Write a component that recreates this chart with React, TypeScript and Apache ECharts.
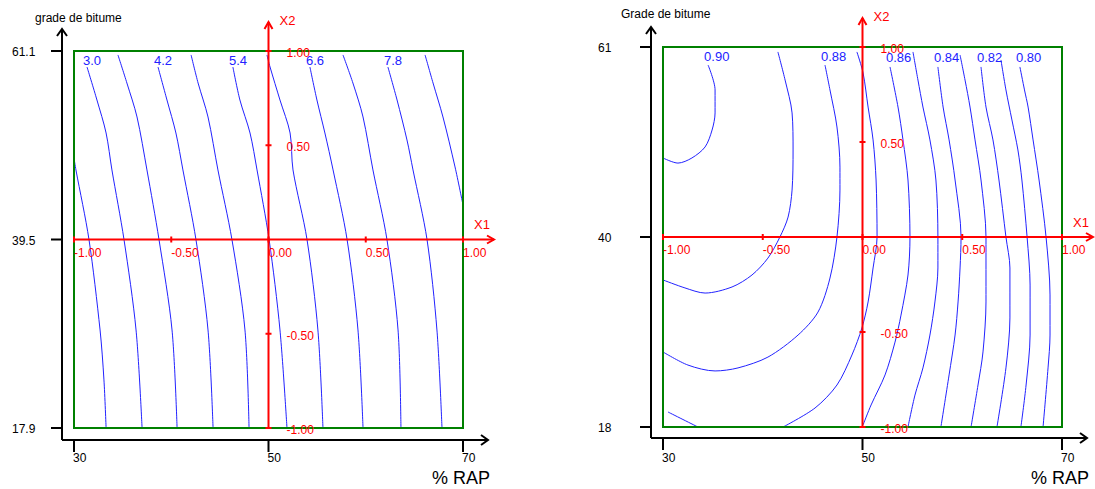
import React, { useEffect, useRef } from "react";
import * as echarts from "echarts";

// ---------- DATA (coded units X1, X2 in [-1, 1]) ----------
const leftLevels = ["2.4", "3.0", "3.6", "4.2", "4.8", "5.4", "6.0", "6.6", "7.2", "7.8", "8.4"];
const leftLabeled = ["3.0", "4.2", "5.4", "6.6", "7.8"];
const leftPaths: number[][][] = [
  [[-1.0, 0.432], [-0.99, 0.369], [-0.923, 0.0], [-0.866, -0.48], [-0.846, -0.745], [-0.835, -1.0]],
  [[-0.933, 0.915], [-0.882, 0.74], [-0.835, 0.565], [-0.805, 0.369], [-0.743, 0.0], [-0.681, -0.48], [-0.65, -1.0]],
  [[-0.774, 0.979], [-0.728, 0.83], [-0.676, 0.65], [-0.625, 0.369], [-0.563, 0.0], [-0.496, -0.48], [-0.47, -1.0]],
  [[-0.568, 0.915], [-0.522, 0.74], [-0.476, 0.565], [-0.44, 0.369], [-0.373, 0.0], [-0.311, -0.48], [-0.285, -1.0]],
  [[-0.398, 0.979], [-0.362, 0.83], [-0.311, 0.65], [-0.26, 0.369], [-0.188, 0.0], [-0.121, -0.48], [-0.1, -1.0]],
  [[-0.183, 0.915], [-0.147, 0.74], [-0.095, 0.565], [-0.059, 0.369], [0.003, 0.0], [0.059, -0.48], [0.095, -1.0]],
  [[-0.008, 0.979], [0.008, 0.915], [0.059, 0.74], [0.111, 0.565], [0.126, 0.369], [0.198, 0.0], [0.254, -0.48], [0.28, -1.0]],
  [[0.213, 0.915], [0.249, 0.74], [0.29, 0.565], [0.332, 0.369], [0.404, 0.0], [0.46, -0.48], [0.486, -1.0]],
  [[0.383, 0.979], [0.434, 0.83], [0.486, 0.65], [0.537, 0.369], [0.609, 0.0], [0.666, -0.48], [0.681, -1.0]],
  [[0.614, 0.915], [0.661, 0.74], [0.712, 0.528], [0.743, 0.369], [0.815, 0.0], [0.866, -0.48], [0.892, -1.0]],
  [[0.805, 0.979], [0.846, 0.83], [0.897, 0.65], [0.959, 0.385], [1.0, 0.183]],
];

const rightLevels = ["0.90", "0.89", "0.88", "0.87", "0.87", "0.86", "0.85", "0.84", "0.83", "0.82", "0.81", "0.80"];
const rightLabeled = ["0.90", "0.88", "0.86", "0.84", "0.82", "0.80"];
const rightPaths: number[][][] = [
  [[-0.774, 0.905], [-0.739, 0.774], [-0.739, 0.653], [-0.754, 0.563], [-0.789, 0.474], [-0.855, 0.416], [-0.925, 0.389], [-1.0, 0.416]],
  [[-0.424, 0.974], [-0.388, 0.826], [-0.353, 0.653], [-0.348, 0.458], [-0.353, 0.247], [-0.373, 0.105], [-0.414, 0.0], [-0.474, -0.111], [-0.554, -0.2], [-0.654, -0.263], [-0.789, -0.295], [-0.89, -0.268], [-1.0, -0.226]],
  [[-0.188, 0.905], [-0.163, 0.774], [-0.128, 0.579], [-0.113, 0.368], [-0.113, 0.247], [-0.128, 0.0], [-0.163, -0.216], [-0.223, -0.395], [-0.323, -0.516], [-0.474, -0.632], [-0.624, -0.689], [-0.739, -0.705], [-0.875, -0.674], [-1.0, -0.605]],
  [[-0.028, 0.974], [0.003, 0.863], [0.028, 0.684], [0.053, 0.511], [0.068, 0.3], [0.073, 0.0], [0.053, -0.163], [0.028, -0.342], [-0.003, -0.479], [-0.053, -0.621], [-0.128, -0.779], [-0.238, -0.9], [-0.398, -1.0]],
  [[-0.975, -0.921], [-0.825, -1.0]],
  [[0.138, 0.895], [0.178, 0.684], [0.203, 0.511], [0.228, 0.3], [0.238, 0.0], [0.228, -0.2], [0.193, -0.411], [0.163, -0.553], [0.113, -0.726], [0.043, -0.884], [0.003, -0.989]],
  [[0.253, 0.974], [0.278, 0.826], [0.303, 0.684], [0.338, 0.511], [0.368, 0.3], [0.378, 0.0], [0.378, -0.163], [0.363, -0.342], [0.338, -0.516], [0.303, -0.689], [0.263, -0.832], [0.228, -1.0]],
  [[0.378, 0.895], [0.404, 0.684], [0.434, 0.511], [0.464, 0.3], [0.494, 0.0], [0.489, -0.163], [0.479, -0.342], [0.464, -0.516], [0.434, -0.726], [0.393, -1.0]],
  [[0.489, 0.958], [0.514, 0.826], [0.539, 0.684], [0.564, 0.511], [0.594, 0.3], [0.619, 0.0], [0.619, -0.342], [0.604, -0.605], [0.579, -0.779], [0.544, -1.0]],
  [[0.594, 0.895], [0.619, 0.684], [0.654, 0.511], [0.684, 0.3], [0.719, 0.0], [0.739, -0.163], [0.739, -0.426], [0.719, -0.689], [0.674, -1.0]],
  [[0.694, 0.932], [0.719, 0.774], [0.749, 0.616], [0.779, 0.458], [0.799, 0.3], [0.825, 0.0], [0.84, -0.253], [0.84, -0.516], [0.82, -0.779], [0.794, -1.0]],
  [[0.789, 0.895], [0.812, 0.774], [0.83, 0.684], [0.855, 0.511], [0.885, 0.3], [0.92, 0.0], [0.94, -0.305], [0.94, -0.516], [0.93, -0.689], [0.905, -1.0]],
];

const codedTicks = [-1, -0.5, 0, 0.5, 1];
const x1Labels = ["-1.00", "-0.50", "0.00", "0.50", "1.00"];
const x2Ticks = [1, 0.5, -0.5, -1];
const x2Labels = ["1.00", "0.50", "-0.50", "-1.00"];
const naturalTicks = [-1, 0, 1];
const rapLabels = ["30", "50", "70"];
const leftGradeLabels = ["17.9", "39.5", "61.1"];
const rightGradeLabels = ["18", "40", "61"];

// ---------- STYLE ----------
const FONT = "'Liberation Sans', Arial, sans-serif";
const BLUE = "#2222ff";
const RED = "#ff0000";
const GREEN = "#008000";
const BLACK = "#000000";

type Cfg = {
  idx: number;
  levels: string[];
  labeled: string[];
  paths: number[][][];
  grade: string[];
  yTitle: string;
  yLabelDx: number;
  xAxisGap: number;
  xLabDy: number;
  rapDy: number;
  titleDx: number;
  clDx: number;
  clDy: number;
  yArrow: number;
};

function makeDeco(cfg: Cfg) {
  return (_params: any, api: any) => {
    const c = (x: number, y: number) => api.coord([x, y]);
    const [bl, bt] = c(-1, 1);
    const [br, bb] = c(1, -1);
    const [ox, oy] = c(0, 0);
    const ax = bl - 12;
    const ay = bb + cfg.xAxisGap;
    const ch: any[] = [];
    const txt = (text: string, x: number, y: number, fill: string, size: number, align = "left") => ({
      type: "text",
      x,
      y,
      style: { text, fill, fontSize: size, fontFamily: FONT, align, verticalAlign: "middle" },
    });
    const ln = (x1: number, y1: number, x2: number, y2: number, stroke: string, w: number) => ({
      type: "line",
      shape: { x1, y1, x2, y2 },
      style: { stroke, lineWidth: w },
    });
    const pl = (points: number[][], stroke: string, w: number) => ({
      type: "polyline",
      shape: { points },
      style: { stroke, lineWidth: w, fill: "none" },
    });

    // contour labels
    const seen: Record<string, boolean> = {};
    cfg.paths.forEach((p, i) => {
      const lv = cfg.levels[i];
      if (cfg.labeled.indexOf(lv) >= 0 && !seen[lv]) {
        seen[lv] = true;
        const [px, py] = c(p[0][0], p[0][1]);
        ch.push(txt(lv, px + cfg.clDx, py + cfg.clDy, BLUE, 13));
      }
    });

    // green frame
    ch.push({
      type: "rect",
      shape: { x: bl, y: bt, width: br - bl, height: bb - bt },
      style: { fill: "none", stroke: GREEN, lineWidth: 2 },
    });

    // black natural axes
    ch.push(ln(ax, ay, ax, bt - cfg.yArrow, BLACK, 2));
    ch.push(pl([[ax - 5, bt - cfg.yArrow + 7], [ax, bt - cfg.yArrow], [ax + 5, bt - cfg.yArrow + 7]], BLACK, 2));
    ch.push(ln(ax, ay, br + 25, ay, BLACK, 2));
    ch.push(pl([[br + 18, ay - 5], [br + 25, ay], [br + 18, ay + 5]], BLACK, 2));
    naturalTicks.forEach((v, i) => {
      const ty = c(0, v)[1];
      ch.push(ln(ax - 11, ty, ax, ty, BLACK, 2));
      ch.push(txt(cfg.grade[i], ax + cfg.yLabelDx, ty + 1, BLACK, 12));
    });
    naturalTicks.forEach((v, i) => {
      const tx = c(v, 0)[0];
      ch.push(ln(tx, ay, tx, ay + 12, BLACK, 2));
      ch.push(txt(rapLabels[i], tx - 1, ay + cfg.xLabDy, BLACK, 12));
    });
    ch.push(txt("% RAP", br + 27, ay + cfg.rapDy, BLACK, 18, "right"));
    ch.push(txt(cfg.yTitle, ax + cfg.titleDx, bt - 33, BLACK, 12));

    // red coded axes
    const tipX = br + 31;
    ch.push(ln(bl, oy, tipX, oy, RED, 2));
    ch.push(pl([[tipX - 7, oy - 4], [tipX, oy], [tipX - 7, oy + 4]], RED, 2));
    codedTicks.forEach((v, i) => {
      const tx = c(v, 0)[0];
      ch.push(ln(tx, oy - 3, tx, oy + 3, RED, 2));
      ch.push(txt(x1Labels[i], tx, oy + 13, RED, 12));
    });
    ch.push(txt("X1", br + 11, oy - 15, RED, 13));

    const tipY = bt - 29;
    ch.push(ln(ox, bb, ox, tipY, RED, 2));
    ch.push(pl([[ox - 4, tipY + 7], [ox, tipY], [ox + 4, tipY + 7]], RED, 2));
    x2Ticks.forEach((v, i) => {
      const ty = c(0, v)[1];
      ch.push(ln(ox - 3, ty, ox + 3, ty, RED, 2));
      ch.push(txt(x2Labels[i], ox + 18, ty + 2, RED, 12));
    });
    ch.push(txt("X2", ox + 11, bt - 31, RED, 13));

    return { type: "group", children: ch };
  };
}

const leftCfg: Cfg = {
  idx: 0,
  levels: leftLevels,
  labeled: leftLabeled,
  paths: leftPaths,
  grade: leftGradeLabels,
  yTitle: "grade de bitume",
  yLabelDx: -50,
  xAxisGap: 12,
  xLabDy: 18,
  rapDy: 38,
  titleDx: -27,
  clDx: -4,
  clDy: -7,
  yArrow: 22,
};

const rightCfg: Cfg = {
  idx: 1,
  levels: rightLevels,
  labeled: rightLabeled,
  paths: rightPaths,
  grade: rightGradeLabels,
  yTitle: "Grade de bitume",
  yLabelDx: -53,
  xAxisGap: 11,
  xLabDy: 20,
  rapDy: 40,
  titleDx: -30,
  clDx: -4,
  clDy: -9,
  yArrow: 20,
};

function contourSeries(cfg: Cfg) {
  return cfg.paths.map((p, i) => ({
    type: "line",
    name: cfg.yTitle + " " + cfg.levels[i],
    xAxisIndex: cfg.idx,
    yAxisIndex: cfg.idx,
    data: p,
    symbol: "none",
    showSymbol: false,
    smooth: 0.3,
    clip: false,
    silent: true,
    z: 2,
    lineStyle: { color: BLUE, width: 1 },
  }));
}

export default function App() {
  const ref = useRef<HTMLDivElement>(null);
  useEffect(() => {
    if (!ref.current) return;
    const chart = echarts.init(ref.current, null, { renderer: "svg" });
    chart.setOption({
      animation: false,
      backgroundColor: "#ffffff",
      grid: [
        { left: 35.1, top: 13.3, width: 466.8, height: 452.4 },
        { left: 623.1, top: 9, width: 458.85, height: 456 },
      ],
      xAxis: [
        { type: "value", min: -1.2, max: 1.2, show: false, gridIndex: 0 },
        { type: "value", min: -1.2, max: 1.1, show: false, gridIndex: 1 },
      ],
      yAxis: [
        { type: "value", min: -1.2, max: 1.2, show: false, gridIndex: 0 },
        { type: "value", min: -1.2, max: 1.2, show: false, gridIndex: 1 },
      ],
      series: [
        ...contourSeries(leftCfg),
        ...contourSeries(rightCfg),
        {
          type: "custom",
          xAxisIndex: 0,
          yAxisIndex: 0,
          data: [[0, 0]],
          renderItem: makeDeco(leftCfg),
          silent: true,
          clip: false,
          z: 5,
        },
        {
          type: "custom",
          xAxisIndex: 1,
          yAxisIndex: 1,
          data: [[0, 0]],
          renderItem: makeDeco(rightCfg),
          silent: true,
          clip: false,
          z: 5,
        },
      ],
    });
    return () => chart.dispose();
  }, []);
  return (
    <div
      ref={ref}
      style={{ position: "fixed", left: 0, top: 0, width: 1095, height: 489, background: "#fff" }}
    />
  );
}
